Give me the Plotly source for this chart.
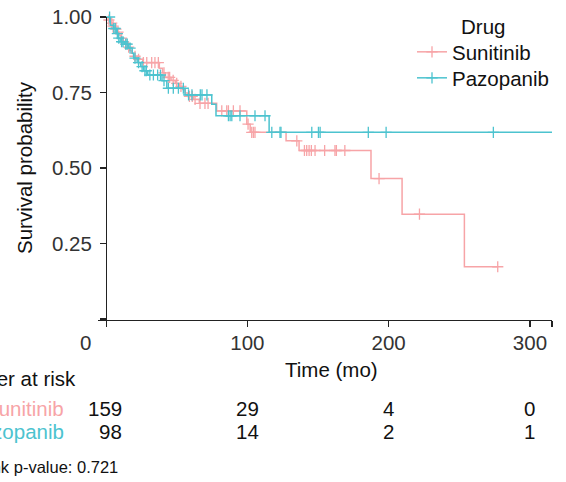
import plotly.graph_objects as go

# ---- data ----
drugs = ["Sunitinib", "Pazopanib"]
legend_title = "Drug"

sun_step_t = [0, 1.5, 3, 4.5, 6, 7.5, 9, 10.5, 12, 13.5, 15, 16.5, 18, 19.5, 22, 26,
              37.7, 40, 42, 46, 49, 52, 54, 56, 58, 62, 66, 78.3, 99.6, 102, 127.4,
              136.6, 187.5, 209.5, 253.6, 277.2]
sun_step_s = [1.0, 0.990, 0.980, 0.970, 0.960, 0.950, 0.940, 0.930, 0.920, 0.910, 0.900,
              0.890, 0.880, 0.870, 0.860, 0.849, 0.830, 0.815, 0.800, 0.790, 0.780, 0.770,
              0.760, 0.748, 0.737, 0.727, 0.714, 0.689, 0.645, 0.618, 0.590, 0.558, 0.465,
              0.347, 0.173, 0.173]
sun_cens_t = [2, 4, 5, 7, 8.5, 11, 14, 16, 20.5, 23, 26.4, 28.8, 32.3, 34.6, 37, 41, 44, 45,
              47.5, 50, 53, 59, 61, 63, 66.5, 70, 72.2, 81.9, 85.4, 86.6, 90.1, 94.8, 100.5,
              103.1, 104.3, 105.4, 135, 140.4, 142, 143.7, 145.3, 147.9, 154.7, 162, 163,
              169, 193.2, 221.8, 277.2]
sun_cens_s = [0.99, 0.98, 0.97, 0.96, 0.95, 0.93, 0.91, 0.90, 0.870, 0.860, 0.849, 0.849,
              0.849, 0.849, 0.849, 0.815, 0.80, 0.80, 0.79, 0.78, 0.77, 0.737, 0.737, 0.727,
              0.714, 0.714, 0.714, 0.689, 0.689, 0.689, 0.689, 0.689, 0.645, 0.618, 0.618,
              0.618, 0.590, 0.558, 0.558, 0.558, 0.558, 0.558, 0.558, 0.558, 0.558, 0.558,
              0.465, 0.347, 0.173]

paz_step_t = [0, 3, 5.2, 7.5, 8.5, 10, 13, 16, 18.5, 19.5, 22, 24.5, 26.5, 29.5, 39.6, 43,
              55.9, 74.8, 77.8, 115.4, 315.6]
paz_step_s = [1.0, 0.973, 0.962, 0.945, 0.930, 0.918, 0.910, 0.897, 0.880, 0.864, 0.849,
              0.836, 0.822, 0.808, 0.789, 0.764, 0.742, 0.711, 0.673, 0.618, 0.618]
paz_cens_t = [2.5, 5.5, 6.5, 8, 9, 11, 12, 14, 15, 17, 20.5, 23, 25.5, 27.5, 28.5, 31, 33.5,
              36.5, 38.5, 41, 44.1, 47.6, 51.2, 54.7, 58.4, 60.8, 66.7, 67.9, 71.4, 86.6,
              87.8, 89, 94.8, 105.4, 112.5, 117.3, 123.1, 123.8, 145.6, 150.3, 151.5, 185.6,
              198.2, 274.1]
paz_cens_s = [1.0, 0.962, 0.962, 0.945, 0.930, 0.918, 0.918, 0.910, 0.910, 0.897, 0.864,
              0.849, 0.836, 0.822, 0.822, 0.808, 0.808, 0.808, 0.808, 0.789, 0.764, 0.764,
              0.764, 0.764, 0.742, 0.742, 0.742, 0.742, 0.742, 0.673, 0.673, 0.673, 0.673,
              0.673, 0.673, 0.618, 0.618, 0.618, 0.618, 0.618, 0.618, 0.618, 0.618, 0.618]

risk_times = [0, 100, 200, 300]
sun_at_risk = [159, 29, 4, 0]
paz_at_risk = [98, 14, 2, 1]

pvalue_text = "Log-rank p-value: 0.721"

x_tick_vals = [100, 200, 300]
y_tick_vals = [0, 0.25, 0.50, 0.75, 1.00]
y_tick_text = ["", "0.25", "0.50", "0.75", "1.00"]

# ---- styling ----
FONT = "Liberation Sans, Arial, Helvetica, sans-serif"
FS = 20.5
PINK = "#F7A4A7"
TEAL = "#4CC3CF"
AXC = "#222222"
W, H = 566, 482
ML, MR, MT, MB = 98, 14, 17, 155
PW, PH = W - ML - MR, H - MT - MB
X_RANGE = [-5.7, 315.6]
Y_RANGE = [-0.0265, 1.0]


def px(xp):
    return (xp - ML) / PW


def py(yp):
    return (H - MB - yp) / PH


fig = go.Figure()
series = [
    (drugs[0], PINK, sun_step_t, sun_step_s, sun_cens_t, sun_cens_s, "legend", 52),
    (drugs[1], TEAL, paz_step_t, paz_step_s, paz_cens_t, paz_cens_s, "legend2", 78),
]
for name, col, st, ss, ct, cs, lg, ly in series:
    fig.add_trace(go.Scatter(x=st, y=ss, mode="lines", line=dict(color=col, width=1.5, shape="hv"),
                             showlegend=False, hoverinfo="skip", cliponaxis=False))
    fig.add_trace(go.Scatter(x=ct, y=cs, mode="markers",
                             marker=dict(symbol="cross-thin", size=8, line=dict(color=col, width=1.3)),
                             showlegend=False, hoverinfo="skip", cliponaxis=False))
for name, col, st, ss, ct, cs, lg, ly in series:
    fig.add_trace(go.Scatter(x=[None], y=[None], mode="lines+markers", name=name, legend=lg,
                             line=dict(color=col, width=1.5),
                             marker=dict(symbol="cross-thin", size=8, line=dict(color=col, width=1.3))))

annotations = []
annotations.append(dict(x=px(85), y=py(342), xref="paper", yref="paper", text="0",
                        showarrow=False, xanchor="center", yanchor="middle",
                        font=dict(family=FONT, size=FS, color="#333333")))
annotations.append(dict(x=px(331), y=py(369), xref="paper", yref="paper", text="Time (mo)",
                        showarrow=False, xanchor="center", yanchor="middle",
                        font=dict(family=FONT, size=FS, color="#111111")))
annotations.append(dict(x=px(24), y=py(168), xref="paper", yref="paper", text="Survival probability",
                        textangle=-90, showarrow=False, xanchor="center", yanchor="middle",
                        font=dict(family=FONT, size=FS, color="#111111")))
annotations.append(dict(x=px(482.5), y=py(26), xref="paper", yref="paper", text=legend_title,
                        showarrow=False, xanchor="center", yanchor="middle",
                        font=dict(family=FONT, size=FS, color="#111111")))
annotations.append(dict(x=px(78), y=py(378), xref="paper", yref="paper", text="Number at risk",
                        showarrow=False, xanchor="right", yanchor="middle",
                        font=dict(family=FONT, size=FS, color="#111111")))
for name, col, counts, yp in [(drugs[0], PINK, sun_at_risk, 408), (drugs[1], TEAL, paz_at_risk, 431)]:
    annotations.append(dict(x=px(66), y=py(yp), xref="paper", yref="paper", text=name,
                            showarrow=False, xanchor="right", yanchor="middle",
                            font=dict(family=FONT, size=FS, color=col)))
    for i, (t, n) in enumerate(zip(risk_times, counts)):
        if i == 0:
            annotations.append(dict(x=t, y=py(yp), xref="x", yref="paper", text=str(n),
                                    showarrow=False, xanchor="right", yanchor="middle", xshift=18,
                                    font=dict(family=FONT, size=FS, color="#111111")))
        else:
            annotations.append(dict(x=t, y=py(yp), xref="x", yref="paper", text=str(n),
                                    showarrow=False, xanchor="center", yanchor="middle",
                                    font=dict(family=FONT, size=FS, color="#111111")))
annotations.append(dict(x=px(120), y=py(467), xref="paper", yref="paper", text=pvalue_text,
                        showarrow=False, xanchor="right", yanchor="middle",
                        font=dict(family=FONT, size=16.5, color="#111111")))

leg_common = dict(xanchor="left", yanchor="middle", bgcolor="rgba(0,0,0,0)",
                  font=dict(family=FONT, size=FS, color="#111111"), itemwidth=30)

fig.update_layout(
    width=W, height=H,
    margin=dict(l=ML, r=MR, t=MT, b=MB, pad=0, autoexpand=False),
    paper_bgcolor="white", plot_bgcolor="white",
    font=dict(family=FONT, size=FS, color="#111111"),
    xaxis=dict(range=X_RANGE, anchor="free", position=7 / PH, showgrid=False, zeroline=False,
               showline=True, linecolor=AXC, linewidth=1.1, automargin=False,
               tickmode="array", tickvals=x_tick_vals + [X_RANGE[1]],
               ticktext=[str(v) for v in x_tick_vals] + [""],
               ticks="outside", ticklen=6, tickwidth=1.1, tickcolor=AXC, ticklabelstandoff=-2,
               tickfont=dict(family=FONT, size=FS, color="#333333")),
    yaxis=dict(range=Y_RANGE, anchor="free", position=8 / PW, showgrid=False, zeroline=False,
               showline=True, linecolor=AXC, linewidth=1.1, automargin=False,
               tickmode="array", tickvals=y_tick_vals, ticktext=y_tick_text,
               ticks="outside", ticklen=6, tickwidth=1.1, tickcolor=AXC, ticklabelstandoff=4,
               tickfont=dict(family=FONT, size=FS, color="#333333")),
    legend=dict(x=px(412), y=py(52), **leg_common),
    legend2=dict(x=px(412), y=py(78), **leg_common),
    annotations=annotations,
    showlegend=True,
)

fig.write_html("out.html", config={"displayModeBar": False, "staticPlot": True},
               post_script="document.body.style.margin='0';document.body.style.overflow='hidden';")
